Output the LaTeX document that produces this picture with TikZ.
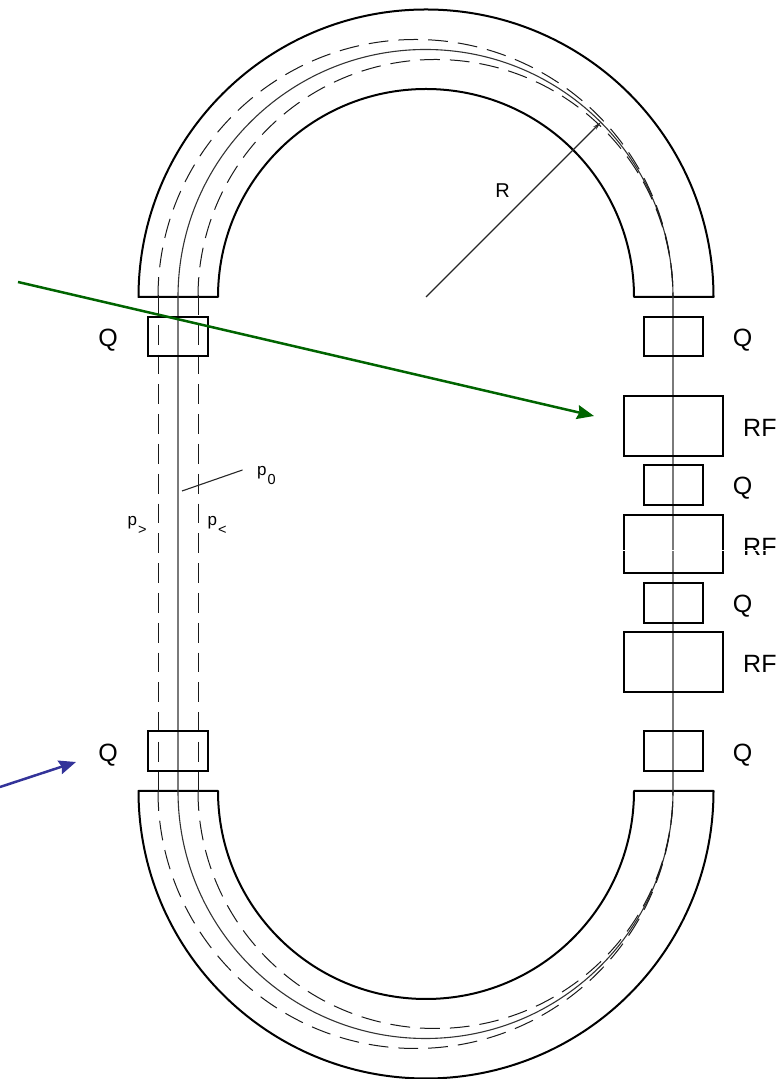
\documentclass[tikz,border=0pt]{standalone}
\usepackage{fontspec}
\setmainfont{Liberation Sans}
\usetikzlibrary{arrows.meta}
\definecolor{beamgreen}{HTML}{006400}
\definecolor{beamblue}{HTML}{333399}
\tikzset{
  magnet/.style={draw=black,line width=2pt,line join=round},
  closedorbit/.style={draw=black!80,line width=1.1pt},
  offorbit/.style={draw=black!90,line width=1pt,dash pattern=on 19.8pt off 10pt},
  qbox/.style={draw=black,line width=2pt,minimum width=59.5pt,minimum height=39.5pt,inner sep=0pt},
  rfbox/.style={draw=black,line width=2pt,minimum width=99pt,inner sep=0pt},
  biglabel/.style={font=\fontsize{25}{25}\selectfont,inner sep=0pt},
  midlabel/.style={font=\fontsize{20}{20}\selectfont,inner sep=0pt},
  smalllabel/.style={font=\fontsize{17}{17}\selectfont,inner sep=0pt,anchor=base west},
  leader/.style={draw=black!85,line width=1.1pt},
}
\newcommand{\lowsub}[1]{\kern1pt\raisebox{-8.5pt}{\fontsize{14.5}{14.5}\selectfont #1}}
\begin{document}
\begin{tikzpicture}[x=1pt,y=1pt]
\useasboundingbox (0,0) rectangle (782,1079);
% arc magnets
\draw[magnet] (138.5,782) arc[start angle=180,end angle=0,radius=287.5pt] -- (634,782)
  arc[start angle=0,end angle=180,radius=208pt] -- cycle;
\draw[magnet] (138.5,288) arc[start angle=180,end angle=360,radius=287.5pt] -- (634,288)
  arc[start angle=360,end angle=180,radius=208pt] -- cycle;
% central orbit
\draw[closedorbit] (178,288) -- (178,782) arc[start angle=180,end angle=0,radius=247.5pt]
  -- (673,288) arc[start angle=360,end angle=180,radius=247.5pt];
% off-momentum orbits
\draw[offorbit] (158,782) arc[start angle=180,end angle=0,radius=257.5pt];
\draw[offorbit] (198,782) arc[start angle=180,end angle=0,radius=237.5pt];
\draw[offorbit] (158,288) arc[start angle=180,end angle=360,radius=257.5pt];
\draw[offorbit] (198,288) arc[start angle=180,end angle=360,radius=237.5pt];
\draw[offorbit] (158,784) -- (158,288);
\draw[offorbit] (198,784) -- (198,288);
% quadrupoles
\node[qbox] (qtl) at (178.2,742.5) {};
\node[qbox] (qbl) at (178.2,328.2) {};
\node[qbox] (qtr) at (673.5,742.5) {};
\node[qbox] (qr1) at (673.5,594) {};
\node[qbox] (qr2) at (673.5,476.2) {};
\node[qbox] (qbr) at (673.5,328.2) {};
% RF cavities
\node[rfbox,minimum height=59.5pt] (rf1) at (673.5,653.2) {};
\node[rfbox,minimum height=58pt] (rf2) at (673.5,535) {};
\node[rfbox,minimum height=59.5pt] (rf3) at (673.5,417.2) {};
% labels
\node[biglabel] (lq1) at (108,739) {Q};
\node[biglabel] (lq2) at (108,323.5) {Q};
\node[biglabel] (lq3) at (742.5,739) {Q};
\node[biglabel] (lq4) at (742.5,472.5+118) {Q};
\node[biglabel] (lq5) at (742.5,472.5) {Q};
\node[biglabel] (lq6) at (742.5,323.5) {Q};
\node[biglabel,anchor=west] (lrf1) at (743,651) {RF};
\node[biglabel,anchor=west] (lrf2) at (743,532) {RF};
\node[biglabel,anchor=west] (lrf3) at (743,415) {RF};
\node[midlabel] (lr) at (502.5,888) {R};
\node[smalllabel] (lp0) at (257,603) {p\lowsub{0}};
\node[smalllabel] (lpg) at (127.5,553) {p\lowsub{>}};
\node[smalllabel] (lpl) at (207.5,553) {p\lowsub{<}};
% radius
\coordinate (rc) at (426,782);
\coordinate (rt) at (601,957);
\draw[leader,-{Stealth[length=9pt,width=4pt]}] (rc) -- (rt);
% p0 leader
\coordinate (p0a) at (182,588);
\coordinate (p0b) at (242.5,609);
\draw[leader] (p0a) -- (p0b);
% beam arrows
\coordinate (ga) at (18,797);
\coordinate (gb) at (594,663);
\draw[beamgreen,line width=2.5pt,-{Stealth[length=17pt,width=14pt,inset=2pt]}] (ga) -- (gb);
\coordinate (ba) at (0,292);
\coordinate (bb) at (76,317);
\draw[beamblue,line width=2.5pt,-{Stealth[length=17pt,width=14pt,inset=2pt]}] (ba) -- (bb);
% seam
\draw[white,line width=0.5pt] (620,529) -- (782,529);
\end{tikzpicture}
\end{document}
